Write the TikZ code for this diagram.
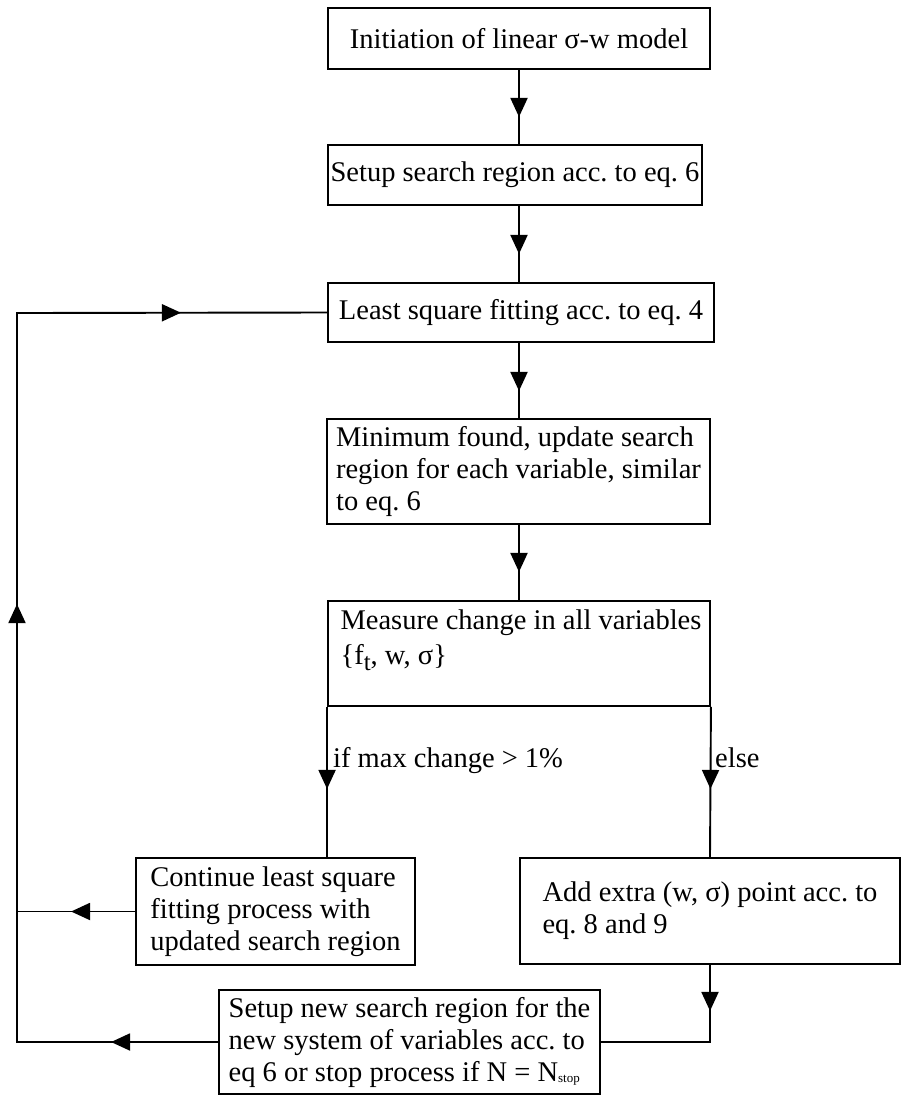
\documentclass[tikz,border=0pt]{standalone}
\usepackage{fontspec}
\setmainfont{Liberation Serif}
\usetikzlibrary{arrows.meta,decorations.markings}
\tikzset{
  box/.style={draw, line width=1.9pt, rectangle, inner xsep=2pt, inner ysep=2pt, align=left,
    font=\fontsize{28.5}{32}\selectfont},
  txt/.style={inner sep=0pt, align=left, font=\fontsize{28.5}{32}\selectfont},
  conn/.style={line width=1.9pt},
  onemark/.style={postaction={decorate}, decoration={markings,
    mark=at position #1 with {\arrow{Triangle[length=19pt,width=17pt]}}}},
  threemarks/.style n args={3}{postaction={decorate}, decoration={markings,
    mark=at position #1 with {\arrow{Triangle[length=19pt,width=17pt]}},
    mark=at position #2 with {\arrow{Triangle[length=19pt,width=17pt]}},
    mark=at position #3 with {\arrow{Triangle[length=19pt,width=17pt]}}}}
}
\begin{document}
\frenchspacing
\begin{tikzpicture}[x=1pt,y=-1pt]
\useasboundingbox (0,0) rectangle (902,1096);
% boxes
\node[box, minimum width=382pt, minimum height=61pt] (b1) at (519,38.5) {Initiation of linear σ-w model};
\node[box, minimum width=374pt, minimum height=60pt] (b2) at (515,175) {Setup search region acc. to eq. 6};
\node[box, minimum width=386pt, minimum height=59pt] (b3) at (521,312.5) {Least square fitting acc. to eq. 4};
\node[box, minimum width=383pt, minimum height=105pt] (b4) at (518.5,471.5) {Minimum found, update search\\region for each variable, similar\\to eq. 6};
\node[box, minimum width=382pt, minimum height=105pt] (b5) at (519,653.5) {};
\node[txt, anchor=north] (t5) at (521,610) {Measure change in all variables\\[3pt]\{f\raisebox{-0.45ex}{\fontsize{25}{25}\selectfont t}, w, σ\}};
\node[box, minimum width=279pt, minimum height=107pt] (b6) at (275.5,911.5) {Continue least square\\fitting process with\\updated search region};
\node[box, minimum width=380pt, minimum height=106pt] (b7) at (710,911) {Add extra (w, σ) point acc. to\\eq. 8 and 9};
\node[box, minimum width=381pt, minimum height=104pt] (b8) at (409.5,1042) {Setup new search region for the\\new system of variables acc. to\\eq 6 or stop process if N = N\raisebox{-1pt}{\fontsize{13}{13}\selectfont stop}};
% labels
\node[txt, anchor=base west] (l1) at (333,767) {if max change > 1\%};
\node[txt, anchor=base west] (l2) at (715,767) {else};
% loop coordinates
\coordinate (LB) at (17,1042);
\coordinate (LT) at (17,313);
% connectors
\draw[conn, onemark=47pt] (b1.south) -- (b1.south |- b2.north);
\draw[conn, onemark=48pt] (b2.south -| b1.south) -- (b1.south |- b3.north);
\draw[conn, onemark=48pt] (b3.south -| b1.south) -- (b1.south |- b4.north);
\draw[conn, onemark=47pt] (b4.south -| b1.south) -- (b1.south |- b5.north);
\draw[conn, onemark=82pt] (b5.south west) -- (b5.south west |- b6.north);
\draw[conn, onemark=82pt] (b5.south east) -- (b7.north);
\draw[conn, onemark=46pt] (b7.south) -- (b7.south |- b8.east) -- (b8.east);
\draw[conn, onemark=64pt] (b6.west) -- (LB |- b6.west);
\draw[conn, line join=miter, threemarks={107pt}{639pt}{1094pt}] (b8.west) -- (LB) -- (LT) -- (b3.west);
\end{tikzpicture}
\end{document}
